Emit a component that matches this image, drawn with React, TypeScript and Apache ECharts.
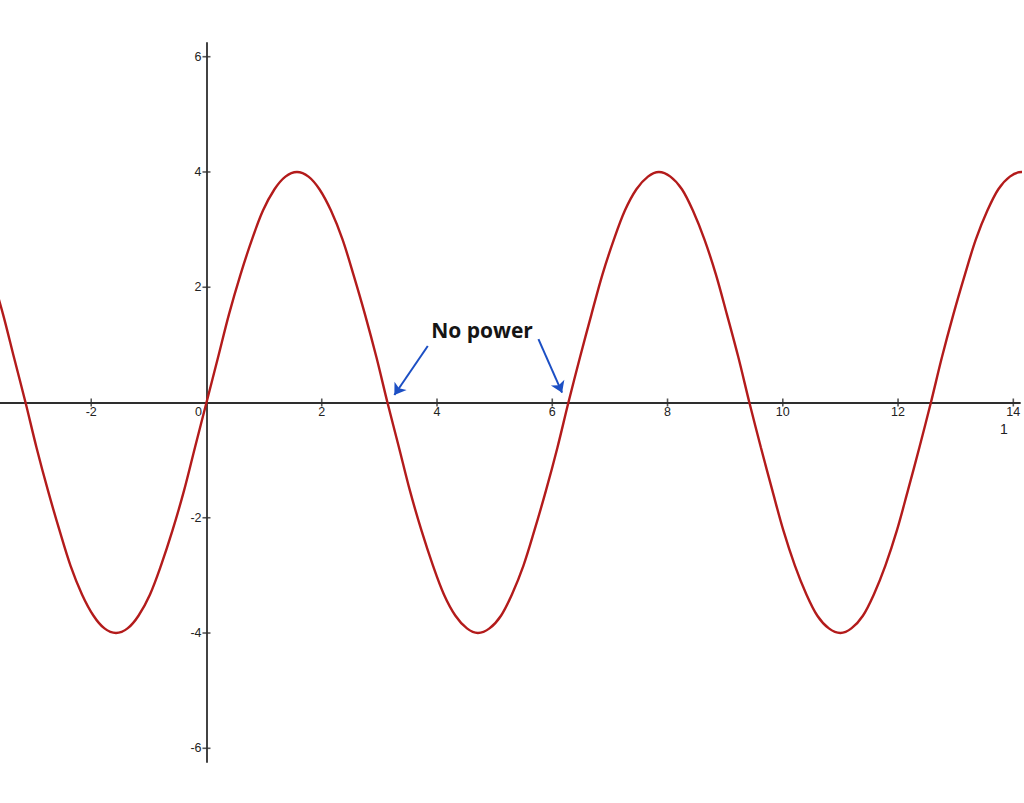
import React, { useEffect, useRef } from "react";
import * as echarts from "echarts";

// curve points (x, y)
const curveX = [
  -3.73, -3.53, -3.34, -3.14, -2.95, -2.75, -2.55, -2.36, -2.16, -1.96,
  -1.77, -1.57, -1.37, -1.18, -0.98, -0.79, -0.59, -0.39, -0.2,
  0, 0.2, 0.39, 0.59, 0.79, 0.98, 1.18, 1.37, 1.57, 1.77, 1.96, 2.16, 2.36, 2.55, 2.75, 2.95,
  3.14, 3.34, 3.53, 3.73, 3.93, 4.12, 4.32, 4.52, 4.71, 4.91, 5.11, 5.3, 5.5, 5.69, 5.89, 6.09,
  6.28, 6.48, 6.68, 6.87, 7.07, 7.26, 7.46, 7.66, 7.85, 8.05, 8.25, 8.44, 8.64, 8.84, 9.03, 9.23,
  9.42, 9.62, 9.82, 10.01, 10.21, 10.41, 10.6, 10.8, 11.0, 11.19, 11.39, 11.58, 11.78, 11.98, 12.17, 12.37,
  12.57, 12.76, 12.96, 13.16, 13.35, 13.55, 13.74, 13.94, 14.14, 14.33,
];
const curveY = [
  2.22, 1.53, 0.78, 0, -0.78, -1.53, -2.22, -2.83, -3.33, -3.7,
  -3.92, -4, -3.92, -3.7, -3.33, -2.83, -2.22, -1.53, -0.78,
  0, 0.78, 1.53, 2.22, 2.83, 3.33, 3.7, 3.92, 4, 3.92, 3.7, 3.33, 2.83, 2.22, 1.53, 0.78,
  0, -0.78, -1.53, -2.22, -2.83, -3.33, -3.7, -3.92, -4, -3.92, -3.7, -3.33, -2.83, -2.22, -1.53, -0.78,
  0, 0.78, 1.53, 2.22, 2.83, 3.33, 3.7, 3.92, 4, 3.92, 3.7, 3.33, 2.83, 2.22, 1.53, 0.78,
  0, -0.78, -1.53, -2.22, -2.83, -3.33, -3.7, -3.92, -4, -3.92, -3.7, -3.33, -2.83, -2.22, -1.53, -0.78,
  0, 0.78, 1.53, 2.22, 2.83, 3.33, 3.7, 3.92, 4, 3.92,
];

// axis ticks and labels
const xTicks = [-2, 2, 4, 6, 8, 10, 12, 14];
const xLabels = [-2, 0, 2, 4, 6, 8, 10, 12, 14];
const yTicks = [-6, -4, -2, 2, 4, 6];

// annotation: "No power" arrows (start -> tip, data coords)
const noteText = "No power";
const arrowStart = [
  [3.84, 0.98],
  [5.76, 1.1],
];
const arrowTip = [
  [3.26, 0.13],
  [6.17, 0.17],
];

const LABEL_FONT = "'Liberation Sans', Arial, sans-serif";

const App: React.FC = () => {
  const chartRef = useRef<HTMLDivElement>(null);

  useEffect(() => {
    const chart = echarts.init(chartRef.current, null, { renderer: "svg" });

    const option: echarts.EChartsOption = {
      animation: false,
      backgroundColor: "#ffffff",
      grid: {
        left: 0,
        right: 4,
        top: 43,
        bottom: 41,
        containLabel: false,
        outerBoundsMode: "none",
      } as any,
      xAxis: {
        type: "value",
        min: -3.583,
        max: 14.116,
        position: "bottom",
        // move the axis from the grid's bottom edge up to y = 0
        offset: -359.5,
        axisLine: { onZero: false, lineStyle: { color: "#2e2e2e", width: 1.8 } },
        axisTick: { show: false },
        splitLine: { show: false },
        axisLabel: {
          customValues: xLabels,
          margin: 3,
          color: "#222",
          fontSize: 12.5,
          fontFamily: LABEL_FONT,
          formatter: (v: number) => (v === 0 ? "{z|0}" : String(v)),
          rich: {
            z: {
              padding: [0, 16, 0, 0],
              color: "#222",
              fontSize: 12.5,
              fontFamily: LABEL_FONT,
            },
          },
        },
      },
      yAxis: {
        type: "value",
        min: -6.238,
        max: 6.238,
        position: "left",
        // move the axis from the grid's left edge right to x = 0
        offset: -206.5,
        axisLine: { onZero: false, lineStyle: { color: "#2e2e2e", width: 1.8 } },
        axisTick: { show: false },
        splitLine: { show: false },
        axisLabel: {
          customValues: yTicks,
          margin: 5,
          color: "#222",
          fontSize: 12.5,
          fontFamily: LABEL_FONT,
        },
      },
      series: [
        {
          type: "scatter",
          silent: true,
          symbol: "rect",
          symbolSize: [1.6, 8],
          itemStyle: { color: "#2e2e2e" },
          data: xTicks.map((v) => [v, 0]),
          z: 1,
        },
        {
          type: "scatter",
          silent: true,
          symbol: "rect",
          symbolSize: [8, 1.6],
          itemStyle: { color: "#2e2e2e" },
          data: yTicks.map((v) => [0, v]),
          z: 1,
        },
        {
          type: "line",
          data: curveX.map((x, i) => [x, curveY[i]]),
          smooth: 0.33,
          showSymbol: false,
          clip: false,
          silent: true,
          lineStyle: { color: "#b31b1b", width: 2.4 },
          z: 3,
          markLine: {
            silent: true,
            symbol: ["none", "arrow"],
            symbolSize: 11,
            label: { show: false },
            lineStyle: { color: "#1c4fc4", width: 2, type: "solid" },
            data: arrowStart.map((s, i) => [
              { coord: s },
              { coord: arrowTip[i] },
            ]) as any,
          },
        },
      ],
      graphic: [
        {
          type: "text",
          x: 482,
          y: 330,
          style: {
            text: noteText,
            align: "center",
            verticalAlign: "middle",
            fontFamily: "'Open Sans', sans-serif",
            fontWeight: "bold",
            fontSize: 21,
            fill: "#151515",
          },
        },
        {
          type: "text",
          x: 1004,
          y: 429,
          style: {
            text: "1",
            align: "center",
            verticalAlign: "middle",
            fontFamily: LABEL_FONT,
            fontSize: 14,
            fill: "#222",
          },
        },
      ],
    };

    chart.setOption(option);
    return () => {
      chart.dispose();
    };
  }, []);

  return (
    <div
      ref={chartRef}
      style={{ position: "absolute", left: 0, top: 0, width: 1024, height: 803 }}
    />
  );
};

export default App;
